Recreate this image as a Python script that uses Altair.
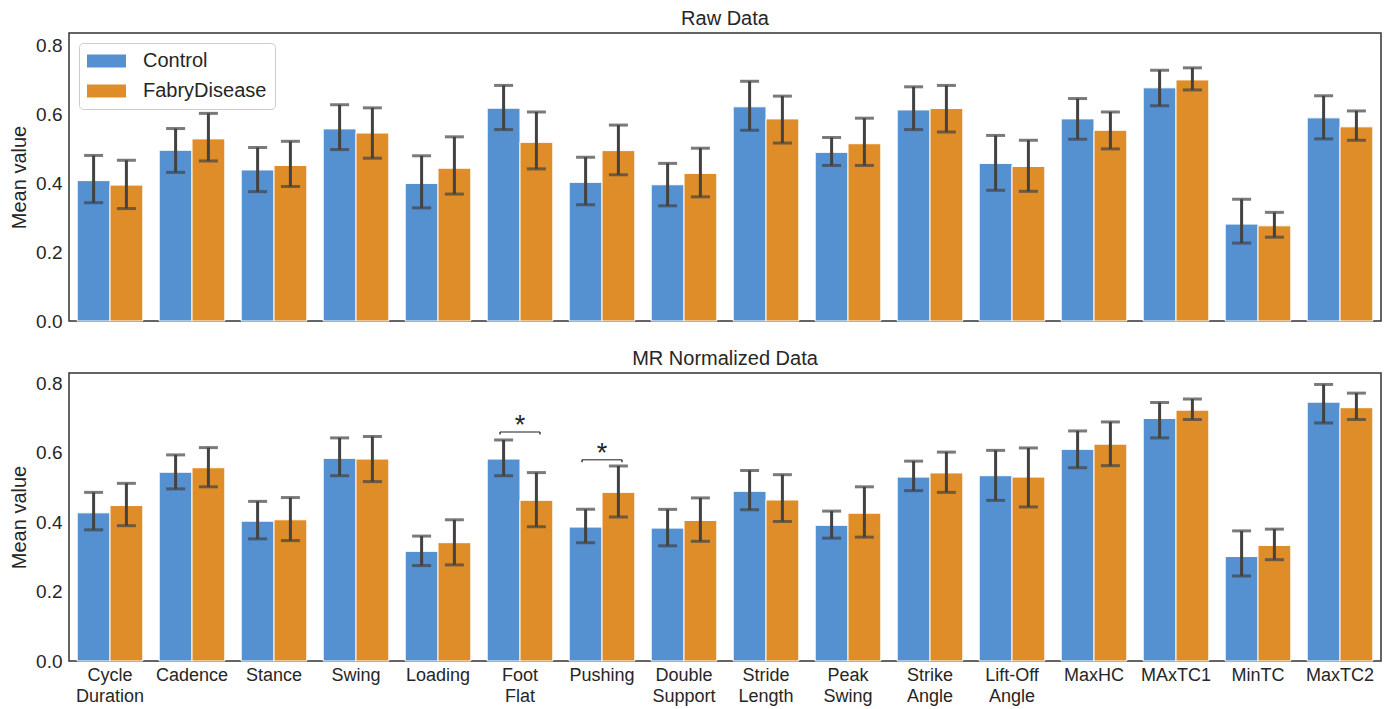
import altair as alt
import pandas as pd

features = ["Cycle Duration", "Cadence", "Stance", "Swing", "Loading", "Foot Flat",
            "Pushing", "Double Support", "Stride Length", "Peak Swing", "Strike Angle",
            "Lift-Off Angle", "MaxHC", "MAxTC1", "MinTC", "MaxTC2"]
groups = ["Control", "FabryDisease"]
colors = ["#5590D0", "#DE8D28"]

raw_control_mean = [0.407, 0.495, 0.438, 0.557, 0.399, 0.617, 0.402, 0.395, 0.621, 0.489, 0.612, 0.457, 0.586, 0.676, 0.281, 0.589]
raw_control_lo = [0.343, 0.431, 0.375, 0.497, 0.328, 0.555, 0.337, 0.334, 0.553, 0.451, 0.555, 0.379, 0.527, 0.624, 0.226, 0.528]
raw_control_hi = [0.480, 0.558, 0.503, 0.627, 0.479, 0.683, 0.475, 0.457, 0.695, 0.532, 0.679, 0.538, 0.645, 0.727, 0.353, 0.653]
raw_fabry_mean = [0.394, 0.528, 0.451, 0.545, 0.443, 0.518, 0.494, 0.428, 0.586, 0.514, 0.616, 0.448, 0.553, 0.699, 0.276, 0.563]
raw_fabry_lo = [0.326, 0.464, 0.390, 0.472, 0.368, 0.441, 0.424, 0.360, 0.516, 0.451, 0.548, 0.376, 0.499, 0.670, 0.243, 0.524]
raw_fabry_hi = [0.466, 0.602, 0.521, 0.618, 0.534, 0.606, 0.568, 0.501, 0.652, 0.588, 0.683, 0.524, 0.606, 0.734, 0.315, 0.609]

norm_control_mean = [0.427, 0.544, 0.403, 0.584, 0.316, 0.582, 0.386, 0.383, 0.489, 0.391, 0.530, 0.534, 0.610, 0.699, 0.301, 0.746]
norm_control_lo = [0.378, 0.496, 0.352, 0.534, 0.275, 0.534, 0.341, 0.332, 0.436, 0.354, 0.491, 0.463, 0.557, 0.643, 0.245, 0.686]
norm_control_hi = [0.486, 0.594, 0.460, 0.643, 0.360, 0.637, 0.437, 0.437, 0.549, 0.432, 0.576, 0.607, 0.663, 0.745, 0.375, 0.797]
norm_fabry_mean = [0.448, 0.557, 0.407, 0.582, 0.341, 0.463, 0.486, 0.405, 0.464, 0.426, 0.542, 0.530, 0.625, 0.723, 0.333, 0.730]
norm_fabry_lo = [0.390, 0.502, 0.347, 0.517, 0.277, 0.387, 0.415, 0.345, 0.402, 0.357, 0.486, 0.444, 0.563, 0.696, 0.292, 0.696]
norm_fabry_hi = [0.512, 0.615, 0.471, 0.647, 0.407, 0.543, 0.562, 0.470, 0.537, 0.502, 0.602, 0.614, 0.689, 0.755, 0.380, 0.772]

sig_features = ["Foot Flat", "Pushing"]
sig_bracket = [0.660, 0.580]
sig_star = [0.654, 0.574]

y_ticks = [0.0, 0.2, 0.4, 0.6, 0.8]

FONT = "Liberation Sans"
TXT = "#262626"
ERR = "#424242"


def make_df(cm, cl, ch, fm, fl, fh):
    rows = []
    for i, f in enumerate(features):
        rows.append({"feature": f, "group": "Control", "mean": cm[i], "lo": cl[i], "hi": ch[i]})
        rows.append({"feature": f, "group": "FabryDisease", "mean": fm[i], "lo": fl[i], "hi": fh[i]})
    return pd.DataFrame(rows)


raw_df = make_df(raw_control_mean, raw_control_lo, raw_control_hi,
                 raw_fabry_mean, raw_fabry_lo, raw_fabry_hi)
norm_df = make_df(norm_control_mean, norm_control_lo, norm_control_hi,
                  norm_fabry_mean, norm_fabry_lo, norm_fabry_hi)
sig_df = pd.DataFrame({"feature": sig_features, "bracket": sig_bracket, "star": sig_star})


def panel(df, title, ymax, show_x, show_legend, sig=None):
    xscale = alt.Scale(domain=features, paddingInner=0.2, paddingOuter=0.1)
    if show_x:
        xaxis = alt.Axis(title=None, labelAngle=0, labelExpr="split(datum.label, ' ')",
                         ticks=False, domain=False, labelFontSize=18, labelPadding=5,
                         labelLineHeight=21, labelBaseline="top", labelColor=TXT,
                         labelFont=FONT, labelLimit=0)
    else:
        xaxis = None
    x = alt.X("feature:N", scale=xscale, axis=xaxis, sort=features)
    yscale = alt.Scale(domain=[0, ymax], nice=False, zero=True)
    yaxis = alt.Axis(title="Mean value", values=y_ticks, format=".1f", grid=False,
                     ticks=False, domain=False, labelFontSize=19, titleFontSize=20,
                     titleFontWeight="normal", labelPadding=7, titlePadding=6,
                     labelColor=TXT, titleColor=TXT, labelFont=FONT, titleFont=FONT)
    xoff = alt.XOffset("group:N", scale=alt.Scale(domain=groups, paddingInner=0, paddingOuter=0))
    if show_legend:
        legend = alt.Legend(title=None, orient="top-left", offset=10, padding=8,
                            symbolType="M-1,-0.65H2.9V0.65H-1Z", symbolSize=400,
                            symbolStrokeWidth=0, labelOffset=36, rowPadding=10,
                            labelFontSize=20, labelFont=FONT, labelColor=TXT,
                            strokeColor="#cccccc", cornerRadius=4, fillColor="white")
    else:
        legend = None
    color = alt.Color("group:N", scale=alt.Scale(domain=groups, range=colors), legend=legend)

    base = alt.Chart(df)
    bars = base.mark_bar(stroke="white", strokeWidth=1).encode(
        x=x, xOffset=xoff, y=alt.Y("mean:Q", scale=yscale, axis=yaxis), color=color)
    errs = base.mark_rule(color=ERR, strokeWidth=3).encode(
        x=x, xOffset=xoff, y="lo:Q", y2="hi:Q")
    cap_lo = base.mark_tick(color=ERR, size=19, thickness=3).encode(
        x=x, xOffset=xoff, y="lo:Q")
    cap_hi = base.mark_tick(color=ERR, size=19, thickness=3).encode(
        x=x, xOffset=xoff, y="hi:Q")
    layers = [bars, errs, cap_lo, cap_hi]
    if sig is not None:
        sbase = alt.Chart(sig).transform_calculate(low="datum.bracket - 0.007")
        line = sbase.mark_tick(color=TXT, size=40, thickness=1.3).encode(x=x, y="bracket:Q")
        endl = sbase.mark_rule(color=TXT, strokeWidth=1.3, xOffset=-20).encode(
            x=x, y="bracket:Q", y2="low:Q")
        endr = sbase.mark_rule(color=TXT, strokeWidth=1.3, xOffset=20).encode(
            x=x, y="bracket:Q", y2="low:Q")
        star = sbase.mark_text(text="*", fontSize=27, baseline="alphabetic", color=TXT,
                               font=FONT).encode(x=x, y="star:Q")
        layers += [line, endl, endr, star]
    return alt.layer(*layers).properties(
        width=1312, height=288,
        title=alt.TitleParams(title, fontSize=20, fontWeight="normal", offset=4,
                              color=TXT, font=FONT))


top = panel(raw_df, "Raw Data", 0.835, False, True)
bottom = panel(norm_df, "MR Normalized Data", 0.83, True, False, sig_df)

chart = alt.vconcat(top, bottom, spacing=16).resolve_scale(
    color="independent").configure(background="white", padding=0).configure_view(
    stroke="#333333", strokeWidth=1.5)

chart.save("out.html", embed_options={"renderer": "svg", "actions": False})
